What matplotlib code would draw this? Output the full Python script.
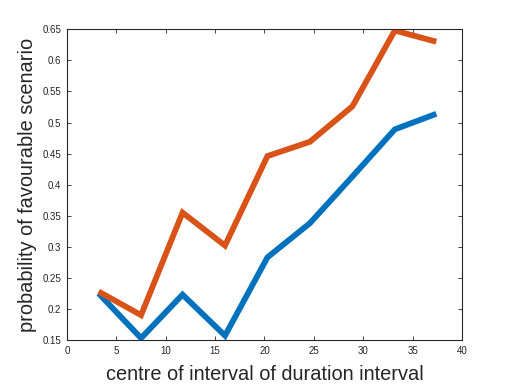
import matplotlib
matplotlib.use("Agg")
import matplotlib.pyplot as plt
from matplotlib.ticker import FuncFormatter

x_centres = [3.2, 7.5, 11.7, 16.0, 20.3, 24.6, 28.9, 33.2, 37.4]
series_blue = [0.225, 0.153, 0.223, 0.157, 0.283, 0.338, 0.413, 0.489, 0.514]
series_orange = [0.228, 0.190, 0.355, 0.302, 0.446, 0.469, 0.526, 0.648, 0.630]
x_ticks = [0, 5, 10, 15, 20, 25, 30, 35, 40]
y_ticks = [0.15, 0.2, 0.25, 0.3, 0.35, 0.4, 0.45, 0.5, 0.55, 0.6, 0.65]
x_label = "centre of interval of duration interval"
y_label = "probability of favourable scenario"

plt.rcParams['font.family'] = ['Liberation Sans', 'DejaVu Sans']

fig = plt.figure(figsize=(5.12, 3.84), dpi=100)
ax = fig.add_axes([0.1309, 0.1146, 0.7714, 0.8091])

ax.plot(x_centres, series_blue, color='#0072BD', linewidth=4.2,
        solid_joinstyle='miter', solid_capstyle='butt')
ax.plot(x_centres, series_orange, color='#D95319', linewidth=4.2,
        solid_joinstyle='miter', solid_capstyle='butt')

ax.set_xlim(0, 40)
ax.set_ylim(0.15, 0.65)
ax.set_xticks(x_ticks)
ax.set_yticks(y_ticks)
fmt = FuncFormatter(lambda v, p: f"{v:g}")
ax.xaxis.set_major_formatter(fmt)
ax.yaxis.set_major_formatter(fmt)
ax.tick_params(direction='in', length=3, width=0.6, labelsize=7, colors='#262626',
               top=True, right=True, pad=4)
for s in ax.spines.values():
    s.set_linewidth(0.8)
    s.set_color('#262626')

ax.set_xlabel(x_label, fontsize=14.4, color='#262626', labelpad=7)
ax.set_ylabel(y_label, fontsize=14.4, color='#262626', labelpad=4)

fig.savefig("out.png", dpi=100)
